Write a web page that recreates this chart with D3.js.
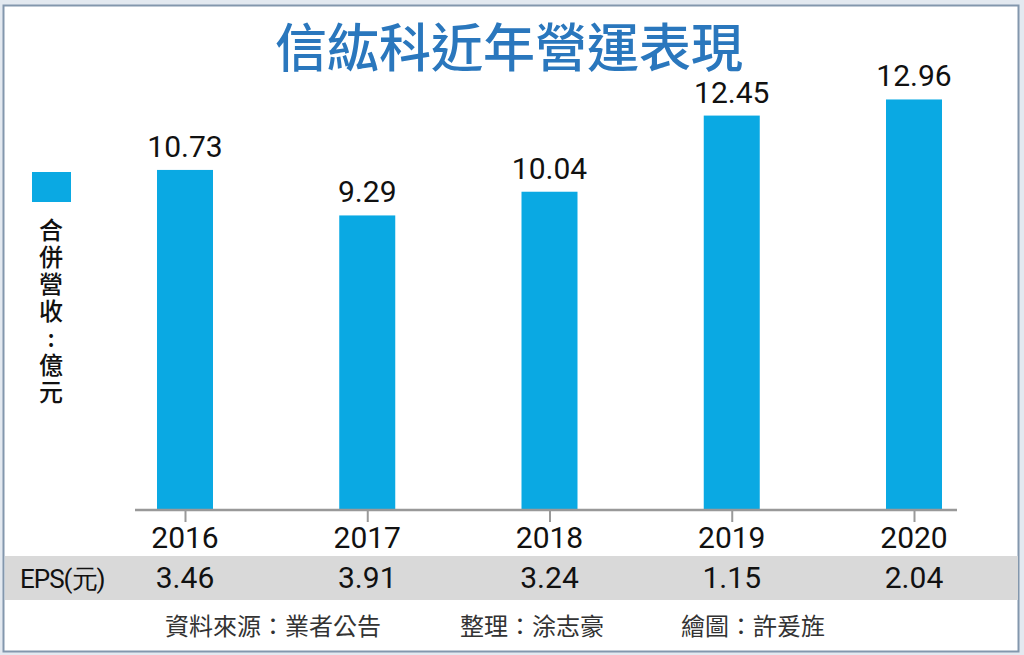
<!DOCTYPE html>
<html>
<head>
<meta charset="utf-8">
<script src="https://cdn.jsdelivr.net/npm/d3@7"></script>
<style>
  body { margin: 0; background: #e3e9f0; }
  svg { display: block; }
</style>
</head>
<body>
<script>
var width = 1024,
    height = 655;

// data
var years = ["2016", "2017", "2018", "2019", "2020"];
var revenue = [10.73, 9.29, 10.04, 12.45, 12.96];
var eps = [3.46, 3.91, 3.24, 1.15, 2.04];
var title = "信紘科近年營運表現";
var legendLabel = "合併營收：億元";
var epsLabel = "EPS(元)";
var credits = ["資料來源：業者公告", "整理：涂志豪", "繪圖：許爰旌"];

var blue = "#0aa9e3",
    cjk = "'Noto Sans CJK TC', 'Noto Sans', sans-serif",
    num = "Roboto, 'Noto Sans', sans-serif";

var svg = d3.select("body").append("svg")
    .attr("width", width)
    .attr("height", height);

// frame
svg.append("rect")
    .attr("x", 3.5)
    .attr("y", 5.5)
    .attr("width", 1015)
    .attr("height", 646)
    .attr("fill", "#fff")
    .attr("stroke", "#8397ad")
    .attr("stroke-width", 2);

svg.append("text")
    .attr("x", 509)
    .attr("y", 67)
    .attr("text-anchor", "middle")
    .attr("font-family", cjk)
    .attr("font-size", 52)
    .attr("font-weight", 500)
    .attr("fill", "#2a77bd")
    .text(title);

var x = d3.scalePoint()
    .domain(years)
    .range([185, 914]);

var y = d3.scaleLinear()
    .domain([0, 13])
    .range([509, 509 - 13 * 31.6]);

var barW = 56;

svg.selectAll(".bar")
    .data(years)
    .enter().append("rect")
    .attr("class", "bar")
    .attr("x", function(d) { return x(d) - barW / 2; })
    .attr("y", function(d, i) { return y(revenue[i]); })
    .attr("width", barW)
    .attr("height", function(d, i) { return y(0) - y(revenue[i]); })
    .attr("fill", blue);

svg.selectAll(".val")
    .data(years)
    .enter().append("text")
    .attr("class", "val")
    .attr("x", function(d) { return x(d); })
    .attr("y", function(d, i) { return y(revenue[i]) - 13; })
    .attr("text-anchor", "middle")
    .attr("font-family", num)
    .attr("font-size", 30)
    .attr("fill", "#111")
    .text(function(d, i) { return revenue[i].toFixed(2); });

// x axis
var axis = d3.axisBottom(x).tickSize(12).tickFormat("");
var gx = svg.append("g")
    .attr("transform", "translate(0," + 510 + ")")
    .call(axis);
gx.select(".domain").remove();
gx.selectAll(".tick line").attr("stroke", "#999").attr("stroke-width", 2);
gx.append("line")
    .attr("x1", 135)
    .attr("x2", 957)
    .attr("stroke", "#999")
    .attr("stroke-width", 2.5);

svg.selectAll(".year")
    .data(years)
    .enter().append("text")
    .attr("class", "year")
    .attr("x", function(d) { return x(d); })
    .attr("y", 548)
    .attr("text-anchor", "middle")
    .attr("font-family", num)
    .attr("font-size", 30)
    .attr("fill", "#111")
    .text(function(d) { return d; });

// EPS band
svg.append("rect")
    .attr("x", 5)
    .attr("y", 556)
    .attr("width", 1013)
    .attr("height", 44)
    .attr("fill", "#d9d9d9");

svg.append("text")
    .attr("x", 20)
    .attr("y", 588)
    .attr("font-family", num)
    .attr("font-size", 26)
    .attr("letter-spacing", -1)
    .attr("fill", "#111")
    .text(epsLabel);

svg.selectAll(".eps")
    .data(years)
    .enter().append("text")
    .attr("class", "eps")
    .attr("x", function(d) { return x(d); })
    .attr("y", 588)
    .attr("text-anchor", "middle")
    .attr("font-family", num)
    .attr("font-size", 30)
    .attr("fill", "#111")
    .text(function(d, i) { return eps[i].toFixed(2); });

// legend
svg.append("rect")
    .attr("x", 32)
    .attr("y", 172)
    .attr("width", 39)
    .attr("height", 30)
    .attr("fill", blue);

// vertical label
svg.append("text")
    .attr("x", 51)
    .attr("y", 218)
    .style("writing-mode", "vertical-rl")
    .style("text-orientation", "upright")
    .attr("letter-spacing", 3)
    .attr("font-family", cjk)
    .attr("font-size", 24)
    .attr("font-weight", 500)
    .attr("fill", "#111")
    .text(legendLabel.replace("：", ":"));

// credits
var creditX = [165, 460, 681];
svg.selectAll(".credit")
    .data(credits)
    .enter().append("text")
    .attr("class", "credit")
    .attr("x", function(d, i) { return creditX[i]; })
    .attr("y", 635)
    .attr("font-family", cjk)
    .attr("font-size", 24)
    .attr("fill", "#333")
    .text(function(d) { return d; });
</script>
</body>
</html>
